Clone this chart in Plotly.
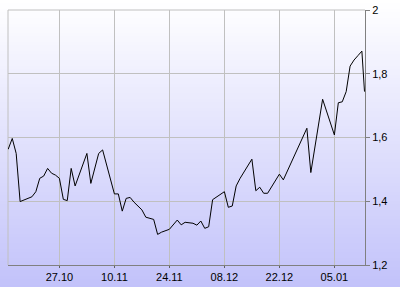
import plotly.graph_objects as go

dates = [
    "2008-10-13 23:00", "2008-10-15", "2008-10-16", "2008-10-17", "2008-10-20",
    "2008-10-21", "2008-10-22", "2008-10-23", "2008-10-24", "2008-10-25",
    "2008-10-26", "2008-10-27", "2008-10-28", "2008-10-29", "2008-10-30",
    "2008-10-31", "2008-11-03", "2008-11-04", "2008-11-06", "2008-11-07",
    "2008-11-10", "2008-11-11", "2008-11-12", "2008-11-13", "2008-11-14",
    "2008-11-15", "2008-11-17", "2008-11-18", "2008-11-20", "2008-11-21",
    "2008-11-22", "2008-11-24", "2008-11-26", "2008-11-27", "2008-11-28",
    "2008-11-30", "2008-12-01", "2008-12-02", "2008-12-03", "2008-12-04",
    "2008-12-05", "2008-12-08", "2008-12-09", "2008-12-10", "2008-12-11",
    "2008-12-12", "2008-12-15", "2008-12-16", "2008-12-17", "2008-12-18",
    "2008-12-19", "2008-12-22", "2008-12-23", "2008-12-29", "2008-12-30",
    "2009-01-02", "2009-01-05", "2009-01-06", "2009-01-07", "2009-01-08",
    "2009-01-09", "2009-01-10", "2009-01-11", "2009-01-12", "2009-01-12 16:00",
]
values = [
    1.563, 1.597, 1.550, 1.399, 1.414,
    1.430, 1.472, 1.479, 1.503, 1.488,
    1.482, 1.472, 1.406, 1.402, 1.503,
    1.448, 1.550, 1.456, 1.550, 1.561,
    1.423, 1.423, 1.369, 1.409, 1.412,
    1.397, 1.373, 1.350, 1.343, 1.296,
    1.303, 1.312, 1.341, 1.326, 1.334,
    1.331, 1.325, 1.338, 1.315, 1.320,
    1.405, 1.430, 1.381, 1.385, 1.448,
    1.472, 1.532, 1.433, 1.444, 1.425,
    1.425, 1.485, 1.467, 1.629, 1.490,
    1.720, 1.608, 1.709, 1.712, 1.744,
    1.824, 1.843, 1.857, 1.871, 1.744,
]

x_tickvals = ["2008-10-27", "2008-11-10", "2008-11-24", "2008-12-08", "2008-12-22", "2009-01-05"]
x_ticktext = ["27.10", "10.11", "24.11", "08.12", "22.12", "05.01"]
y_tickvals = [1.2, 1.4, 1.6, 1.8, 2.0]
y_ticktext = ["1,2", "1,4", "1,6", "1,8", "2"]

W, H = 400, 287
ML, MR, MT, MB = 8, 35, 10, 22
PW, PH = W - ML - MR, H - MT - MB

fig = go.Figure()
fig.add_trace(go.Scatter(
    x=dates, y=values, mode="lines",
    line=dict(color="#000000", width=1),
    hoverinfo="skip", showlegend=False,
))

# vertical background gradient (white -> lavender) over the whole image,
# drawn as overlapping bands (each reaching to the bottom) to avoid seams
shapes = []
top = (255, 255, 255)
bot = (194, 194, 250)
step = 3
for py in range(0, H, step):
    t = py / (H - 1)
    c = tuple(round(top[i] + (bot[i] - top[i]) * t) for i in range(3))
    y1 = (H - MB - py) / PH
    y0 = (-MB - 5) / PH
    shapes.append(dict(
        type="rect", xref="paper", yref="paper",
        x0=-ML / PW - 0.02, x1=(W - ML) / PW + 0.02, y0=y0, y1=y1,
        fillcolor="rgb(%d,%d,%d)" % c, line=dict(width=0), layer="below",
    ))
# top and left border
shapes.append(dict(type="line", xref="paper", yref="paper", x0=0, x1=1, y0=1, y1=1,
                   line=dict(color="#c0c0c0", width=1), layer="below"))
shapes.append(dict(type="line", xref="paper", yref="paper", x0=0, x1=0, y0=0, y1=1,
                   line=dict(color="#c0c0c0", width=1), layer="below"))

fig.update_layout(
    width=W, height=H,
    margin=dict(l=ML, r=MR, t=MT, b=MB, pad=0),
    paper_bgcolor="rgba(0,0,0,0)",
    plot_bgcolor="rgba(0,0,0,0)",
    shapes=shapes,
    font=dict(family="Liberation Sans, Arial, sans-serif", size=11, color="#000000"),
    xaxis=dict(
        type="date", automargin=False,
        range=["2008-10-13 22:00", "2009-01-12 19:00"],
        tickvals=x_tickvals, ticktext=x_ticktext,
        showgrid=True, gridcolor="#c0c0c0", gridwidth=1,
        showline=True, linecolor="#808080", linewidth=1,
        ticks="outside", ticklen=2, tickcolor="#606060",
        zeroline=False, fixedrange=True,
    ),
    yaxis=dict(
        side="right", automargin=False,
        range=[1.2, 2.0],
        tickvals=y_tickvals, ticktext=y_ticktext,
        showgrid=True, gridcolor="#c0c0c0", gridwidth=1,
        showline=True, linecolor="#808080", linewidth=1,
        ticks="outside", ticklen=4, tickcolor="#808080",
        zeroline=False, fixedrange=True,
    ),
)

fig.write_html("out.html", config={"displayModeBar": False})
